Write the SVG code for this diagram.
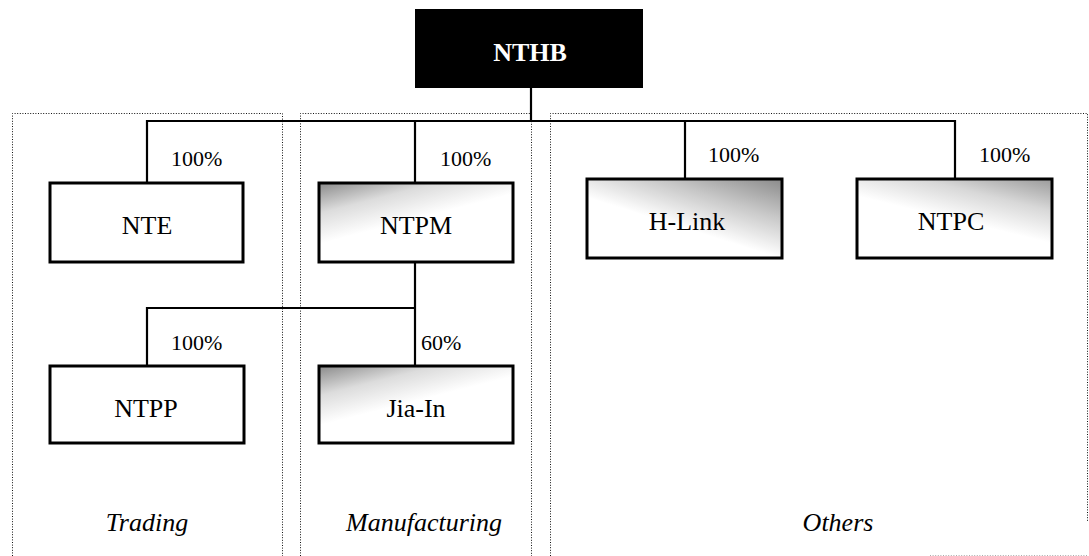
<svg xmlns="http://www.w3.org/2000/svg" width="1089" height="556" viewBox="0 0 1089 556" font-family="'Liberation Serif', 'Times New Roman', 'DejaVu Serif', serif">
<style>
.sec{fill:none;stroke:#111;stroke-width:1;stroke-dasharray:1 1.6}
.box{stroke:#000;stroke-width:3}
text{font-family:'Liberation Serif','Times New Roman','DejaVu Serif',serif}
.lbl{font-size:26px;fill:#000;text-anchor:middle}
.pct{font-size:22px;fill:#000}
.cap{font-size:26px;font-style:italic;fill:#000;text-anchor:middle}
.con{fill:none;stroke:#000;stroke-width:2.2}
</style>
<defs>
<linearGradient id="gTR" x1="1" y1="0" x2="0.3" y2="0.9">
<stop offset="0" stop-color="#8a8a8a"/>
<stop offset="0.35" stop-color="#c8c8c8"/>
<stop offset="0.7" stop-color="#fff"/>
</linearGradient>
<linearGradient id="gTR2" x1="1" y1="0" x2="0.4" y2="1">
<stop offset="0" stop-color="#9a9a9a"/>
<stop offset="0.3" stop-color="#d8d8d8"/>
<stop offset="0.6" stop-color="#fff"/>
</linearGradient>
<linearGradient id="gTL" x1="0" y1="0" x2="0.35" y2="0.55">
<stop offset="0" stop-color="#8a8a8a"/>
<stop offset="0.5" stop-color="#dcdcdc"/>
<stop offset="1" stop-color="#fff"/>
</linearGradient>
</defs>
<rect width="1089" height="556" fill="#fff"/>
<g id="sections">
<path class="sec" d="M12.5,556 V113.5 H282.5 V556"/>
<path class="sec" d="M300.5,556 V113.5 H531.5 V556"/>
<path class="sec" d="M550.5,556 V113.5 H1087.5 V522"/>
<path class="sec" d="M930,555.5 H1088" stroke-opacity="0.35"/>
<text class="cap" x="147" y="531">Trading</text>
<text class="cap" x="424" y="531">Manufacturing</text>
<text class="cap" x="838" y="531">Others</text>
</g>
<g id="connectors">
<path class="con" d="M531,88 V121"/>
<path class="con" d="M147,183 V121 H955 V179"/>
<path class="con" d="M415,121 V183"/>
<path class="con" d="M685,121 V179"/>
<path class="con" d="M415,262 V366"/>
<path class="con" d="M415,308 H147 V366"/>
<text class="pct" x="171" y="166">100%</text>
<text class="pct" x="440" y="166">100%</text>
<text class="pct" x="708" y="162">100%</text>
<text class="pct" x="979" y="162">100%</text>
<text class="pct" x="171" y="350">100%</text>
<text class="pct" x="421" y="350">60%</text>
</g>
<g id="NTHB">
<rect x="415" y="9" width="228" height="79" fill="#000"/>
<text class="lbl" x="530" y="61" style="fill:#fff;font-weight:bold">NTHB</text>
</g>
<g id="NTE">
<rect class="box" x="50" y="183" width="193" height="79" fill="#fff"/>
<text class="lbl" x="147" y="234">NTE</text>
</g>
<g id="NTPM">
<rect class="box" x="319" y="183" width="194" height="79" fill="url(#gTL)"/>
<text class="lbl" x="416" y="234">NTPM</text>
</g>
<g id="H-Link">
<rect class="box" x="587" y="179" width="195" height="79" fill="url(#gTR)"/>
<text class="lbl" x="687" y="230">H-Link</text>
</g>
<g id="NTPC">
<rect class="box" x="857" y="179" width="195" height="79" fill="url(#gTR2)"/>
<text class="lbl" x="951" y="230">NTPC</text>
</g>
<g id="NTPP">
<rect class="box" x="50" y="366" width="194" height="77" fill="#fff"/>
<text class="lbl" x="146" y="417">NTPP</text>
</g>
<g id="Jia-In">
<rect class="box" x="319" y="366" width="194" height="77" fill="url(#gTL)"/>
<text class="lbl" x="416" y="417">Jia-In</text>
</g>
</svg>
